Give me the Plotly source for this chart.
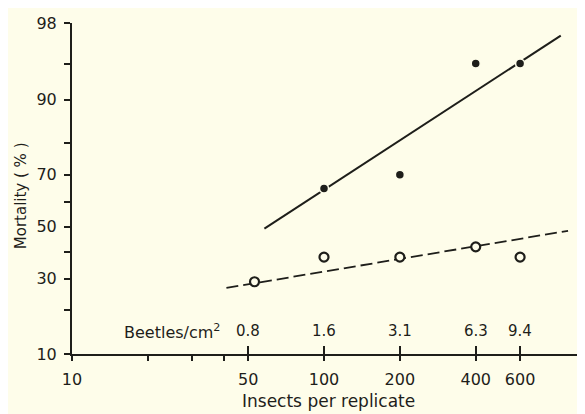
import math
from statistics import NormalDist
import plotly.graph_objects as go

_nd = NormalDist()


def probit(p):
    return _nd.inv_cdf(p / 100.0)


# ---------------- data ----------------
solid_x = [100, 200, 400, 600]          # insects per replicate (filled dots)
solid_mort = [65, 70, 95, 95]           # mortality %
open_x = [53, 100, 200, 400, 600]       # insects per replicate (open circles)
open_mort = [29, 38, 38, 42, 38]        # mortality %

fit_solid_x = [58, 870]                 # fitted regression line (solid)
fit_solid_mort = [49.3, 97.3]
fit_dash_x = [41, 930]                  # fitted regression line (dashed)
fit_dash_mort = [26.9, 48.4]

density_x = [50, 100, 200, 400, 600]
density_labels = ["0.8", "1.6", "3.1", "6.3", "9.4"]

x_ticks = [10, 50, 100, 200, 400, 600]
x_minor = [20, 30, 40]
y_ticks = [10, 30, 50, 70, 90, 98]
y_minor = [20, 40, 60, 80, 95]

# ---------------- style ----------------
BG = "#fefdea"
INK = "#1e1e1a"
FONT = "DejaVu Sans"

fig = go.Figure()

fig.add_trace(go.Scatter(
    x=fit_solid_x, y=[probit(v) for v in fit_solid_mort], mode="lines",
    line=dict(color=INK, width=2), hoverinfo="skip", showlegend=False))
fig.add_trace(go.Scatter(
    x=fit_dash_x, y=[probit(v) for v in fit_dash_mort], mode="lines",
    line=dict(color=INK, width=1.8, dash="12px,5px"), hoverinfo="skip",
    showlegend=False))
fig.add_trace(go.Scatter(
    x=solid_x, y=[probit(v) for v in solid_mort], mode="markers",
    marker=dict(size=9, color=INK, line=dict(color=BG, width=1.5)),
    showlegend=False))
fig.add_trace(go.Scatter(
    x=open_x, y=[probit(v) for v in open_mort], mode="markers",
    marker=dict(size=9, color=BG, line=dict(color=INK, width=2.2)),
    showlegend=False))
# invisible trace for the overlay axis (inner halves of crossing ticks)
fig.add_trace(go.Scatter(x=[10], y=[probit(50)], xaxis="x2", mode="markers",
                         marker=dict(opacity=0), hoverinfo="skip",
                         showlegend=False))

x_range = [1, 1 + 513 / 252]

# the page body has an 8px margin, so the figure is drawn 8px smaller
fig.update_layout(
    width=577, height=406,
    margin=dict(l=64, r=0, t=15, b=60, autoexpand=False),
    paper_bgcolor=BG, plot_bgcolor=BG,
    font=dict(family=FONT, color=INK, size=15),
    xaxis=dict(
        type="log", range=x_range, automargin=False,
        tickmode="array", tickvals=x_ticks, ticktext=[str(v) for v in x_ticks],
        ticks="outside", ticklen=5, tickwidth=2, tickcolor=INK,
        ticklabelstandoff=5,
        minor=dict(tickmode="array", tickvals=x_minor, ticks="outside",
                   ticklen=5, tickwidth=2, tickcolor=INK),
        showline=True, linecolor=INK, linewidth=2,
        showgrid=False, zeroline=False,
        tickfont=dict(size=16, family=FONT),
    ),
    xaxis2=dict(
        type="log", range=x_range, overlaying="x", anchor="y", side="bottom",
        automargin=False,
        tickmode="array", tickvals=x_ticks[1:], ticks="inside", ticklen=8,
        tickwidth=2, tickcolor=INK, showticklabels=False, showline=False,
        showgrid=False, zeroline=False,
    ),
    yaxis=dict(
        range=[probit(10), probit(98)], automargin=False,
        tickmode="array", tickvals=[probit(v) for v in y_ticks],
        ticktext=[str(v) for v in y_ticks],
        ticks="outside", ticklen=6, tickwidth=2, tickcolor=INK,
        ticklabelstandoff=4,
        minor=dict(tickmode="array", tickvals=[probit(v) for v in y_minor],
                   ticks="outside", ticklen=6, tickwidth=2, tickcolor=INK),
        showline=True, linecolor=INK, linewidth=2,
        showgrid=False, zeroline=False,
        tickfont=dict(size=16, family=FONT),
    ),
)

# axis titles
fig.add_annotation(x=0.5, y=-0.143, xref="paper", yref="paper",
                   text="Insects per replicate", showarrow=False,
                   xanchor="center", yanchor="middle",
                   font=dict(size=17, family=FONT, color=INK))
fig.add_annotation(x=-0.1005, y=0.478, xref="paper", yref="paper",
                   text="Mortality ( % )", showarrow=False, textangle=-90,
                   xanchor="center", yanchor="middle",
                   font=dict(size=15, family=FONT, color=INK))

# density row
fig.add_annotation(x=math.log10(39.5), y=0.068, xref="x", yref="paper",
                   text="Beetles/cm<sup>2</sup>", showarrow=False,
                   xanchor="right", yanchor="middle",
                   font=dict(size=16, family=FONT, color=INK))
for xv, lab in zip(density_x, density_labels):
    fig.add_annotation(x=math.log10(xv), y=0.068, xref="x", yref="paper",
                       text=lab, showarrow=False, xanchor="center",
                       yanchor="middle",
                       font=dict(size=15, family=FONT, color=INK))

fig.write_html("out.html", config={"displayModeBar": False})
